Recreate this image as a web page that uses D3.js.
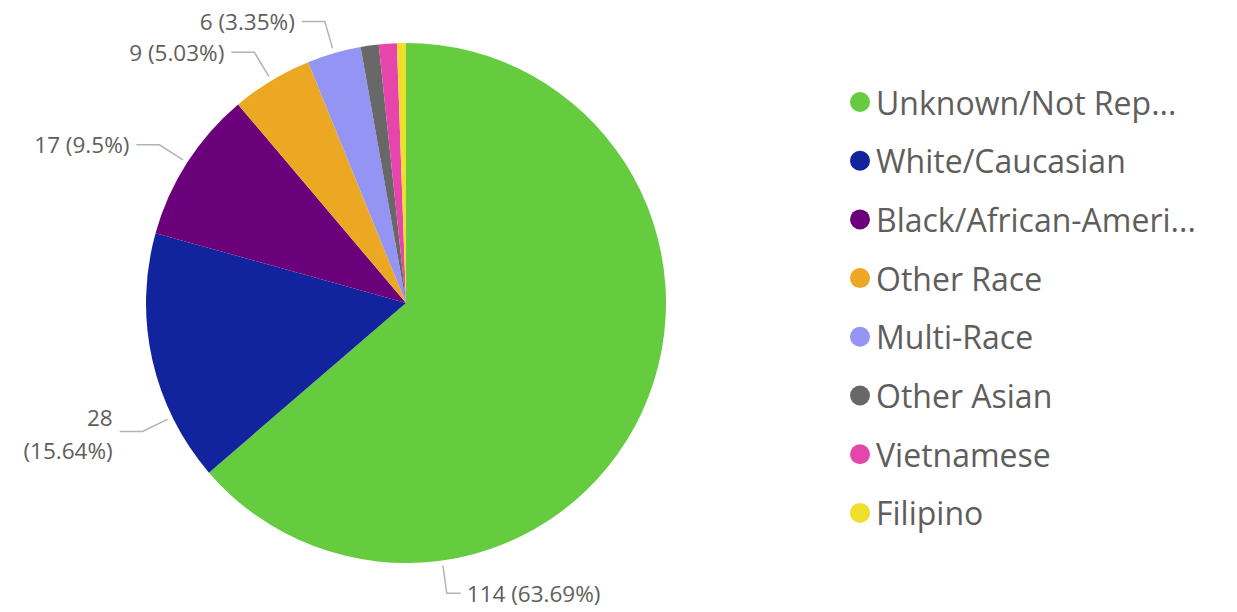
<!DOCTYPE html>
<html><head><meta charset="utf-8">
<script src="https://cdn.jsdelivr.net/npm/d3@7"></script>
<style>html,body{margin:0;padding:0;background:#fff;}svg{display:block;font-family:"Open Sans","Noto Sans",sans-serif;}</style>
</head><body>
<svg id="chart" width="1237" height="612"></svg>
<script>
const categories = ["Unknown/Not Reported","White/Caucasian","Black/African-American","Other Race","Multi-Race","Other Asian","Vietnamese","Filipino"];
const legendLabels = ["Unknown/Not Rep...","White/Caucasian","Black/African-Ameri...","Other Race","Multi-Race","Other Asian","Vietnamese","Filipino"];
const values = [114, 28, 17, 9, 6, 2, 2, 1];
const colors = ["#65CC40","#12239E","#6B007B","#EDA823","#9494F4","#686868","#E645AB","#F0DE2C"];
const labelled = [true, true, true, true, true, false, false, false];

const W = 1237, H = 612;
const cx = 406, cy = 303, R = 260;
const svg = d3.select("#chart");
const total = d3.sum(values);
const data = categories.map((c,i)=>({cat:c, label:legendLabels[i], value:values[i], color:colors[i], i}));

const pie = d3.pie().value(d=>d.value).sort(null);
const arcs = pie(data);
const arc = d3.arc().innerRadius(0).outerRadius(R);
const g = svg.append("g").attr("transform",`translate(${cx},${cy})`);
g.selectAll("path").data(arcs).enter().append("path")
  .attr("d",arc).attr("fill",d=>d.data.color);

// label angle adjustments (degrees, clockwise from 12 o'clock) where the renderer shifts labels
const labelAngleOverride = {0: 172, 1: 244};
const fmtPct = v => { const p = Math.round(v/total*10000)/100; return p + "%"; };
const lg = svg.append("g");
arcs.forEach((a,i)=>{
  if(!labelled[i]) return;
  const midDeg = (a.startAngle+a.endAngle)/2*180/Math.PI;
  const deg = labelAngleOverride[i] !== undefined ? labelAngleOverride[i] : midDeg;
  const t = deg*Math.PI/180;
  const sx = cx + (R+5)*Math.sin(t), sy = cy - (R+5)*Math.cos(t);
  const ex = cx + (R+33)*Math.sin(t), ey = cy - (R+33)*Math.cos(t);
  const left = Math.sin(t) < 0;
  const hx = ex + (left ? -23 : 14);
  lg.append("polyline").attr("points",`${sx},${sy} ${ex},${ey} ${hx},${ey}`)
    .attr("fill","none").attr("stroke","#B3B3B3").attr("stroke-width",1.5);
  const tx = hx + (left ? -7 : 6);
  const full = `${a.data.value} (${fmtPct(a.data.value)})`;
  const txt = lg.append("text").attr("x",tx).attr("y",ey)
    .attr("text-anchor",left?"end":"start").attr("dominant-baseline","central")
    .attr("font-size",22.5).attr("fill","#605E5C").text(full);
  const w = txt.node().getComputedTextLength();
  if(left && tx - w < 5){
    txt.text(null);
    txt.append("tspan").attr("x",tx).attr("y",ey-14).text(`${a.data.value}`);
    txt.append("tspan").attr("x",tx).attr("y",ey+19).text(`(${fmtPct(a.data.value)})`);
  }
});

// legend
const legX = 860, legY0 = 102, legStep = 58.7;
const leg = svg.append("g");
data.forEach((d,i)=>{
  const y = legY0 + i*legStep;
  leg.append("circle").attr("cx",legX).attr("cy",y).attr("r",10).attr("fill",d.color);
  leg.append("text").attr("x",876).attr("y",y).attr("dominant-baseline","central")
    .attr("font-size",32).attr("fill","#605E5C").text(d.label);
});
</script>
</body></html>
